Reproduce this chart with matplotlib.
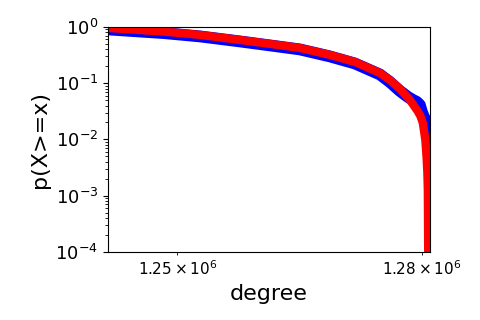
import matplotlib
matplotlib.use('Agg')
import matplotlib.pyplot as plt
import matplotlib.ticker as mtick

# empirical ccdf (blue)
deg_emp = [1.24159e6, 1.24836e6, 1.25273e6, 1.25760e6, 1.26127e6, 1.26494e6,
           1.26863e6, 1.27171e6, 1.27480e6, 1.27604e6, 1.27728e6, 1.27827e6,
           1.27889e6, 1.27939e6, 1.27976e6, 1.28001e6, 1.28026e6, 1.28050e6,
           1.28075e6, 1.28088e6, 1.28094e6, 1.28100e6]
p_emp = [0.903, 0.776, 0.678, 0.552, 0.469, 0.398,
         0.299, 0.224, 0.143, 0.105, 0.0728, 0.057,
         0.0504, 0.0464, 0.041, 0.031, 0.025, 0.022,
         0.0196, 0.0148, 0.0098, 0.0071]

# fitted curve (red)
deg_fit = [1.24159e6, 1.24836e6, 1.25273e6, 1.25760e6, 1.26127e6, 1.26494e6,
           1.26863e6, 1.27171e6, 1.27480e6, 1.27604e6, 1.27728e6, 1.27852e6,
           1.27914e6, 1.27951e6, 1.27982e6, 1.28013e6, 1.28044e6, 1.28059e6,
           1.28069e6, 1.28075e6, 1.28084e6]
p_fit = [0.960, 0.825, 0.721, 0.587, 0.499, 0.423,
         0.318, 0.239, 0.152, 0.114, 0.079, 0.0504,
         0.0376, 0.0315, 0.0262, 0.0197, 0.00979, 0.00494,
         0.00265, 0.00127, 0.00001]

x_ticks = [1.25e6, 1.28e6]
x_ticklabels = [r'$1.25\times10^{6}$', r'$1.28\times10^{6}$']

fig = plt.figure(figsize=(4.8, 3.2), dpi=100)
ax = fig.add_axes([0.225, 0.2125, 0.671, 0.7035])

ax.plot(deg_emp, p_emp, color='blue', linewidth=8.5, solid_joinstyle='round')
ax.plot(deg_fit, p_fit, color='red', linewidth=6, solid_joinstyle='round')

ax.set_xscale('log')
ax.set_yscale('log')
ax.set_xlim(1.24163e6, 1.28103e6)
ax.set_ylim(1e-4, 1)

ax.xaxis.set_major_locator(mtick.NullLocator())
ax.xaxis.set_minor_locator(mtick.FixedLocator(x_ticks))
ax.xaxis.set_minor_formatter(mtick.FixedFormatter(x_ticklabels))
ax.tick_params(axis='x', which='minor', labelsize=11)

ax.set_xlabel('degree', fontsize=16)
ax.set_ylabel('p(X>=x)', fontsize=16)
ax.tick_params(axis='y', which='major', labelsize=13)

fig.savefig('out.png', dpi=100)
